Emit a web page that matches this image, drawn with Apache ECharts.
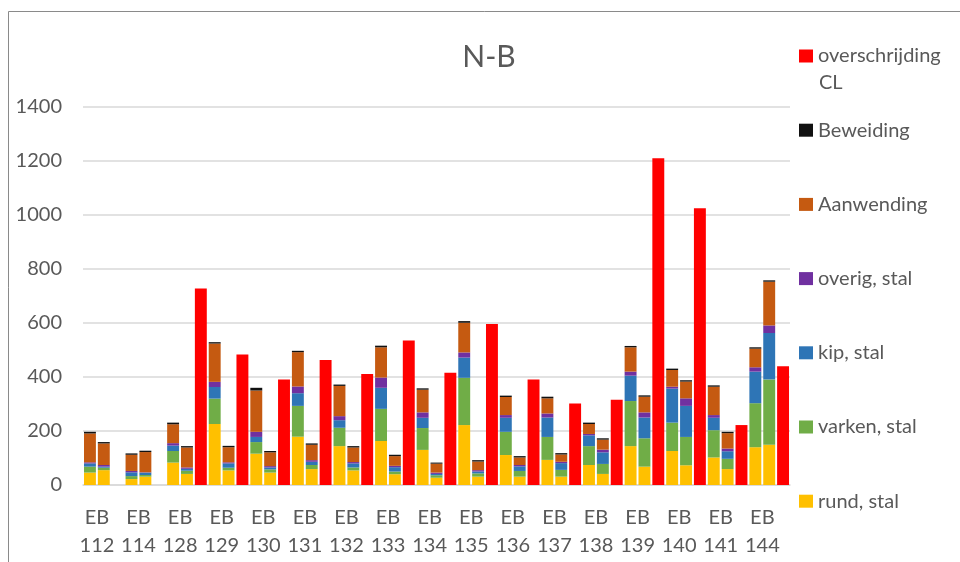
<!DOCTYPE html>
<html>
<head>
<meta charset="utf-8">
<script src="https://cdn.jsdelivr.net/npm/echarts@6/dist/echarts.min.js"></script>
<style>
html,body{margin:0;padding:0;background:#fff;}
#c{width:960px;height:562px;}
</style>
</head>
<body>
<div id="c"></div>
<script>
// Categories (each has two stacked bars and one "overschrijding CL" bar)
const categories = ['EB 112','EB 114','EB 128','EB 129','EB 130','EB 131','EB 132','EB 133','EB 134','EB 135','EB 136','EB 137','EB 138','EB 139','EB 140','EB 141','EB 144'];

// first stacked bar per category
const rund_1       = [46, 22, 83, 226, 116, 179, 144, 163, 130, 222, 111, 93, 74, 144, 126, 102, 140];
const varken_1     = [22, 11, 43, 94, 43, 114, 68, 119, 81, 175, 86, 85, 70, 167, 105, 101, 163];
const kip_1        = [12, 14, 20, 43, 19, 47, 28, 78, 38, 75, 52, 72, 40, 94, 126, 46, 117];
const overig_1     = [4, 5, 9, 19, 19, 25, 15, 38, 20, 19, 10, 15, 5, 15, 7, 10, 16];
const aanwending_1 = [107, 60, 70, 142, 153, 127, 112, 112, 84, 110, 67, 56, 37, 90, 62, 105, 69];
const beweiding_1  = [6, 5, 6, 5, 10, 5, 5, 6, 5, 6, 5, 6, 5, 5, 5, 5, 5];

// second stacked bar per category
const rund_2       = [55, 31, 41, 54, 46, 59, 54, 40, 27, 31, 31, 31, 41, 68, 73, 59, 149];
const varken_2     = [9, 6, 12, 10, 12, 15, 11, 10, 9, 12, 21, 25, 37, 105, 105, 38, 242];
const kip_2        = [4, 9, 7, 16, 7, 12, 15, 16, 5, 7, 17, 25, 43, 77, 115, 28, 172];
const overig_2     = [6, 1, 5, 4, 5, 6, 5, 5, 5, 5, 5, 5, 10, 19, 28, 10, 28];
const aanwending_2 = [80, 75, 74, 56, 51, 57, 54, 36, 33, 32, 28, 27, 37, 58, 62, 57, 162];
const beweiding_2  = [5, 5, 5, 5, 5, 5, 5, 5, 4, 5, 5, 5, 5, 5, 5, 5, 5];

// overschrijding CL (third bar per category)
const overschrijding = [null, null, 728, 483, 391, 463, 411, 535, 416, 596, 391, 302, 316, 1210, 1025, 222, 440];

const yTicks = [0, 200, 400, 600, 800, 1000, 1200, 1400];

// Build 3 slots per category
const slots = [];
categories.forEach((c, k) => { slots.push(c + '|1', c + '|2', c + '|3'); });
function stacked(a, b) {
  const out = [];
  for (let k = 0; k < categories.length; k++) out.push(a[k], b[k], null);
  return out;
}
function third(a) {
  const out = [];
  for (let k = 0; k < categories.length; k++) out.push(null, null, a[k]);
  return out;
}

const FONT = 'Lato';
const GREY = '#595959';

const seriesDefs = [
  {name: 'rund, stal', color: '#FFC000', data: stacked(rund_1, rund_2)},
  {name: 'varken, stal', color: '#70AD47', data: stacked(varken_1, varken_2)},
  {name: 'kip, stal', color: '#2E75B6', data: stacked(kip_1, kip_2)},
  {name: 'overig, stal', color: '#7030A0', data: stacked(overig_1, overig_2)},
  {name: 'Aanwending', color: '#C55A11', data: stacked(aanwending_1, aanwending_2)},
  {name: 'Beweiding', color: '#111111', data: stacked(beweiding_1, beweiding_2)},
  {name: 'overschrijding CL', color: '#FF0000', data: third(overschrijding)}
];

const chart = echarts.init(document.getElementById('c'), null, {renderer: 'canvas'});
chart.setOption({
  animation: false,
  backgroundColor: '#ffffff',
  title: {
    text: 'N-B', left: 489, top: 42, textAlign: 'center', padding: 0,
    textStyle: {fontFamily: FONT, fontSize: 30, fontWeight: 'normal', color: GREY}
  },
  legend: {
    orient: 'vertical', left: 799, top: 42, padding: 0,
    itemWidth: 14, itemHeight: 13, itemGap: 46.2, icon: 'rect',
    data: ['overschrijding CL', 'Beweiding', 'Aanwending', 'overig, stal', 'kip, stal', 'varken, stal', 'rund, stal'],
    formatter: n => n === 'overschrijding CL' ? 'overschrijding' : n,
    textStyle: {fontFamily: FONT, fontSize: 20, lineHeight: 28, color: GREY}
  },
  graphic: [
    {type: 'rect', shape: {x: 8.5, y: 11.5, width: 1000, height: 700}, style: {fill: 'none', stroke: '#8a8a8a', lineWidth: 1}, silent: true},
    {type: 'text', left: 819, top: 73, style: {text: 'CL', font: '20px Lato', fill: GREY}}
  ],
  grid: {left: 83, right: 170, top: 107, bottom: 77, containLabel: false},
  xAxis: {
    type: 'category', data: slots,
    axisTick: {show: false},
    axisLine: {lineStyle: {color: '#d9d9d9', width: 1.5}},
    axisLabel: {
      interval: 0, margin: 19, color: GREY, fontFamily: FONT, fontSize: 20, lineHeight: 28,
      padding: [0, 0, 0, 14],
      formatter: (v, i) => (i % 3 === 0) ? v.split('|')[0].replace(' ', '\n') : ''
    }
  },
  yAxis: {
    type: 'value', min: yTicks[0], max: yTicks[yTicks.length - 1], interval: yTicks[1] - yTicks[0],
    axisLine: {show: false}, axisTick: {show: false},
    splitLine: {lineStyle: {color: '#d9d9d9', width: 1.5}},
    axisLabel: {margin: 21, color: GREY, fontFamily: FONT, fontSize: 20, formatter: v => String(v)}
  },
  series: seriesDefs.map(s => ({
    name: s.name, type: 'bar', stack: 'total', barCategoryGap: '14%',
    itemStyle: {color: s.color}, data: s.data
  }))
});
</script>
</body>
</html>
